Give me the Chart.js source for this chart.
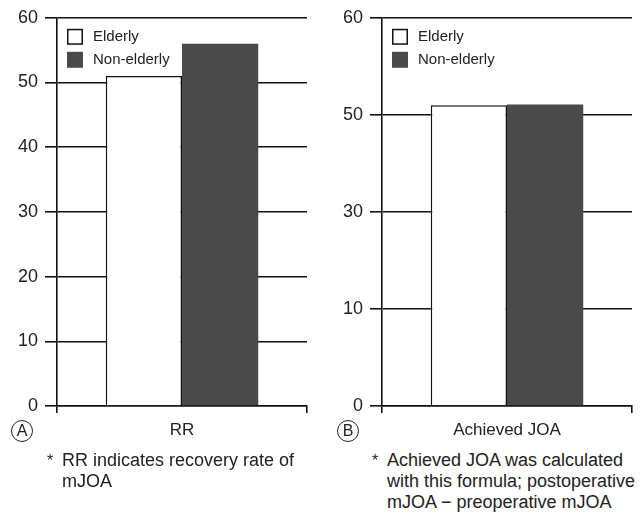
<!DOCTYPE html>
<html>
<head>
<meta charset="utf-8">
<script src="https://cdn.jsdelivr.net/npm/chart.js@4.4.1/dist/chart.umd.min.js"></script>
<style>
  body { margin: 0; width: 644px; height: 514px; overflow: hidden; background: #fff; position: relative;
         font-family: "Liberation Sans", Arial, sans-serif; color: #222; }
  canvas { position: absolute; top: 0; }
  .note { position: absolute; font-size: 18px; line-height: 21px; white-space: nowrap; }
  .note .star { position: absolute; left: -15px; top: 0; font-size: 16px; }
  .circ { position: absolute; width: 20px; height: 20px; border: 1.5px solid #222; border-radius: 50%;
          font-size: 16px; line-height: 20px; text-align: center; }
</style>
</head>
<body>
<canvas id="chartA" width="322" height="450" style="left:0"></canvas>
<canvas id="chartB" width="322" height="450" style="left:322px"></canvas>

<div class="circ" style="left:11px; top:420px;">A</div>
<div class="circ" style="left:337px; top:420px;">B</div>

<div class="note" style="left:62px; top:450px;"><span class="star">*</span>RR indicates recovery rate of<br>mJOA</div>
<div class="note" style="left:387px; top:450px;"><span class="star">*</span>Achieved JOA was calculated<br>with this formula; postoperative<br>mJOA − preoperative mJOA</div>

<script>
// panel A: recovery rate
const categoriesA = ['RR'];
const elderlyA = [51];
const nonElderlyA = [56];
const tickLabelsA = ['0', '10', '20', '30', '40', '50', '60'];

// panel B: achieved JOA (axis is drawn with 5 evenly spaced labels)
const categoriesB = ['Achieved JOA'];
const elderlyB = [46.5];
const nonElderlyB = [46.6];
const tickLabelsB = ['0', '10', '30', '50', '60'];

const seriesNames = ['Elderly', 'Non-elderly'];
const LINE = '#111';

// legend drawn inside the plot area, top-left
const insideLegend = {
    id: 'insideLegend',
    afterDraw(chart) {
        const ctx = chart.ctx;
        const area = chart.chartArea;
        chart.data.datasets.forEach((ds, i) => {
            const x = area.left + 10;
            const y = area.top + 11 + i * 23;
            ctx.save();
            ctx.fillStyle = ds.backgroundColor;
            ctx.fillRect(x, y, 16, 16);
            if (ds.borderWidth) {
                ctx.lineWidth = 1.5;
                ctx.strokeStyle = ds.borderColor;
                ctx.strokeRect(x + 0.75, y + 0.75, 14.5, 14.5);
            }
            ctx.fillStyle = '#222';
            ctx.font = '15px "Liberation Sans", Arial, sans-serif';
            ctx.textBaseline = 'middle';
            ctx.fillText(ds.label, x + 26, y + 8);
            ctx.restore();
        });
    }
};

function makeChart(id, categories, elderly, nonElderly, step, tickLabels, axisWidth, padRight) {
    const ctx = document.getElementById(id).getContext('2d');
    return new Chart(ctx, {
        type: 'bar',
        data: {
            labels: categories,
            datasets: [
                {
                    label: seriesNames[0],
                    data: elderly,
                    backgroundColor: '#ffffff',
                    borderColor: LINE,
                    borderWidth: 1.5,
                    borderSkipped: 'bottom',
                },
                {
                    label: seriesNames[1],
                    data: nonElderly,
                    backgroundColor: '#4a4a4a',
                    borderWidth: 0,
                },
            ],
        },
        options: {
            responsive: false,
            animation: false,
            devicePixelRatio: 1,
            layout: { padding: { top: 16, right: padRight, left: 0, bottom: 0 } },
            datasets: { bar: { categoryPercentage: 0.61, barPercentage: 1.0 } },
            plugins: { legend: { display: false }, tooltip: { enabled: false } },
            scales: {
                x: {
                    grid: { drawOnChartArea: false, color: LINE, lineWidth: 1.6, tickLength: 7 },
                    border: { display: true, color: LINE, width: 1.6 },
                    ticks: { color: '#222', font: { size: 17, family: '"Liberation Sans", Arial, sans-serif' }, padding: 7 },
                    afterFit: (scale) => { scale.height = 44; },
                },
                y: {
                    min: 0,
                    max: 60,
                    grid: { color: LINE, lineWidth: 1.6, tickLength: 12 },
                    border: { display: true, color: LINE, width: 1.6 },
                    ticks: {
                        stepSize: step,
                        color: '#222',
                        padding: 7,
                        font: { size: 18, family: '"Liberation Sans", Arial, sans-serif' },
                        callback: (value, index) => tickLabels[index],
                    },
                    afterFit: (scale) => { scale.width = axisWidth; },
                },
            },
        },
        plugins: [insideLegend],
    });
}

makeChart('chartA', categoriesA, elderlyA, nonElderlyA, 10, tickLabelsA, 57, 15);
makeChart('chartB', categoriesB, elderlyB, nonElderlyB, 15, tickLabelsB, 60, 12);
</script>
</body>
</html>
